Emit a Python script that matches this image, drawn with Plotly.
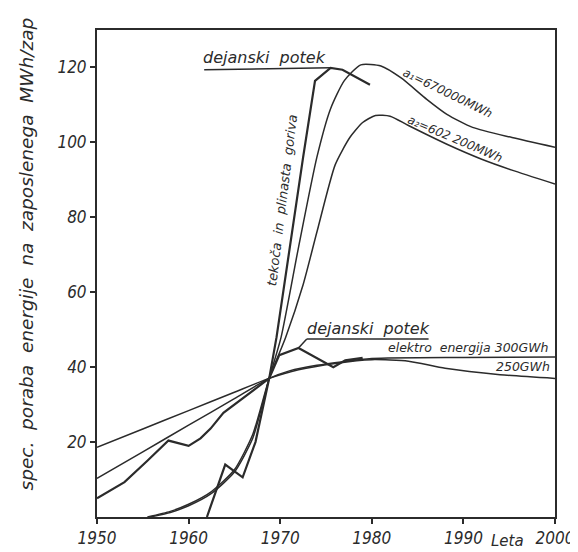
import plotly.graph_objects as go

# ---------------- data ----------------
# electricity: actual course ("dejanski potek")
el_act_years = [1950, 1953, 1955.5, 1957.8, 1960, 1961.3, 1962.4, 1963.8, 1968.8, 1969.9, 1972, 1975.8, 1977.1, 1979]
el_act_vals = [5, 9.3, 15, 20.4, 19, 21, 23.6, 27.8, 37, 43.2, 45.1, 40, 41.8, 42.5]

# electricity forecast 300 GWh
el300_years = [1950, 1955, 1960, 1965, 1968.8, 1971, 1974, 1980, 1990, 2000]
el300_vals = [10.3, 17.4, 24.5, 31.6, 37, 39, 40.5, 42.3, 42.6, 42.7]

# electricity forecast 250 GWh
el250_years = [1950, 1955, 1960, 1965, 1968.8, 1972, 1976, 1980, 1984, 1988, 1994, 2000]
el250_vals = [18.6, 23.5, 28.4, 33.3, 37, 39.3, 41, 42, 41.6, 39.7, 38, 37]

# liquid and gaseous fuels: actual course
fuel_act_years = [1962, 1964, 1965.9, 1967.3, 1968.8, 1969.6, 1972.5, 1973.8, 1975.5, 1976.8, 1979.8]
fuel_act_vals = [0, 14, 10.6, 20, 37, 48, 96, 116.4, 119.9, 119.4, 115.4]

# fuel forecast a1 = 670000 MWh
a1_years = [1955.8, 1958, 1960, 1962.5, 1965, 1967, 1968.8, 1970.1, 1972, 1974, 1975.5, 1977, 1978.8,
            1981, 1983.2, 1986, 1988.2, 1991, 1995.3, 2000]
a1_vals = [0, 1.2, 3, 6.3, 12, 21, 37, 48, 72, 96, 109, 116.5, 120.7,
           120.4, 117.2, 111.5, 107.5, 104, 101.3, 98.7]

# fuel forecast a2 = 602 200 MWh
a2_years = [1955.5, 1958, 1960, 1962.5, 1965, 1967, 1968.8, 1970.6, 1972.5, 1974, 1976, 1977.6, 1979,
            1980.4, 1982, 1984, 1988.2, 1992, 1995.3, 2000]
a2_vals = [0, 1.5, 3.4, 6.8, 12.6, 22, 37, 48, 62, 76, 94, 101.3, 105.3,
           107.2, 107, 104.5, 99.5, 95.5, 92.6, 88.9]

x_ticks = [1950, 1960, 1970, 1980, 1990, 2000]
y_ticks = [20, 40, 60, 80, 100, 120]

INK = "#2b2b2b"
TXT_FONT = "DejaVu Sans, Liberation Sans, sans-serif"
TICK_FONT = "DejaVu Sans Condensed, DejaVu Sans, sans-serif"

fig = go.Figure()

def curve(x, y, width, smooth):
    fig.add_trace(go.Scatter(
        x=x, y=y, mode="lines",
        line=dict(color=INK, width=width, shape="spline" if smooth else "linear",
                  smoothing=0.6 if smooth else 0),
        showlegend=False, hoverinfo="skip"))

curve(el250_years, el250_vals, 1.5, True)
curve(el300_years, el300_vals, 1.5, True)
curve(a1_years, a1_vals, 1.5, True)
curve(a2_years, a2_vals, 1.5, True)
curve(el_act_years, el_act_vals, 2.2, False)
curve(fuel_act_years, fuel_act_vals, 2.2, False)

# underlines / leaders for the "dejanski potek" labels
fig.add_shape(type="line", xref="x", yref="y", x0=1961.7, y0=119.4, x1=1975.5, y1=119.9,
              line=dict(color=INK, width=1.5))
fig.add_shape(type="line", xref="x", yref="y", x0=1972, y0=45.1, x1=1972.9, y1=47.5,
              line=dict(color=INK, width=1.5))
fig.add_shape(type="line", xref="x", yref="y", x0=1972.9, y0=47.5, x1=1986.2, y1=47.5,
              line=dict(color=INK, width=1.5))

def label(text, x, y, size, angle=0, xanchor="center"):
    fig.add_annotation(text=text, x=x, y=y, xref="x", yref="y", showarrow=False,
                       textangle=angle, xanchor=xanchor, yanchor="middle",
                       font=dict(family=TXT_FONT, size=size, color=INK, style="italic"))

label("dejanski  potek", 1968.3, 122.6, 16)
label("dejanski  potek", 1979.6, 50.3, 16)
label("elektro  energija 300GWh", 1999.6, 45.3, 12.5, xanchor="right")
label("250GWh", 1999.7, 40.2, 12.5, xanchor="right")
label("a₁=670000MWh", 1988.3, 113.3, 12, angle=26)
label("a₂=602 200MWh", 1989.1, 100.8, 12, angle=23)
label("tekoča  in  plinasta  goriva", 1970.2, 84.5, 13, angle=-83)

fig.add_annotation(text="spec.  poraba  energije  na  zaposlenega  MWh/zap",
                   xref="paper", yref="paper", x=-0.154, y=0.54, showarrow=False,
                   textangle=-90, xanchor="center", yanchor="middle",
                   font=dict(family=TXT_FONT, size=18.5, color=INK, style="italic"))
fig.add_annotation(text="Leta", xref="paper", yref="paper", x=0.897, y=-0.05,
                   showarrow=False, xanchor="center", yanchor="middle",
                   font=dict(family=TXT_FONT, size=15, color=INK, style="italic"))

axis_common = dict(showgrid=False, zeroline=False, showline=True, mirror=True,
                   linecolor=INK, linewidth=2, ticks="outside", ticklen=5,
                   tickwidth=1.5, tickcolor=INK,
                   tickfont=dict(family=TICK_FONT, size=17, color=INK, style="italic"))

fig.update_layout(
    width=578, height=552,
    margin=dict(l=89, r=21, t=22, b=40),
    paper_bgcolor="white", plot_bgcolor="white",
    xaxis=dict(range=[1950, 2000], tickvals=x_ticks, ticktext=[str(v) for v in x_ticks],
               **axis_common),
    yaxis=dict(range=[0, 130], tickvals=y_ticks, ticktext=[str(v) for v in y_ticks],
               **axis_common),
)

fig.write_html("out.html")
